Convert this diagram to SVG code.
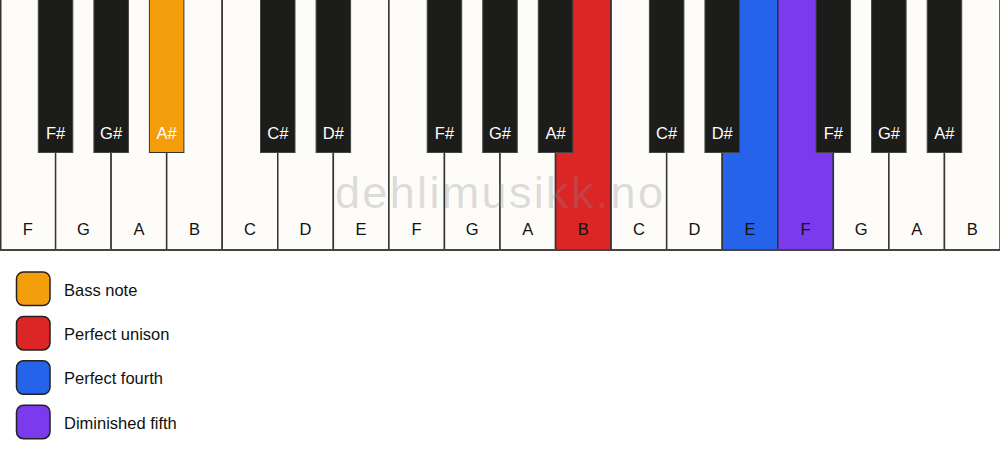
<svg xmlns="http://www.w3.org/2000/svg" width="1000" height="461" viewBox="0 0 1000 461">
<style>
.w{fill:#fdfcf8;stroke:#333;stroke-width:1.5}
.b{fill:#1c1c1a;stroke:#444;stroke-width:1}
.lw{font-family:"Liberation Sans",Arial,sans-serif;font-size:16.5px;fill:#111;text-anchor:middle}
.lb{font-family:"Liberation Sans",Arial,sans-serif;font-size:16.5px;fill:#fff;text-anchor:middle}
.sw{stroke:#222;stroke-width:1.5}
.lg{font-family:"Liberation Sans",Arial,sans-serif;font-size:16.5px;fill:#111}
</style>
<rect width="1000" height="461" fill="#ffffff"/>
<g id="white-keys">
<g id="wk-F1"><rect class="w" x="0.75" y="-2" width="55.56" height="252"/><text class="lw" x="27.78" y="235.3">F</text></g>
<g id="wk-G1"><rect class="w" x="55.56" y="-2" width="55.56" height="252"/><text class="lw" x="83.33" y="235.3">G</text></g>
<g id="wk-A1"><rect class="w" x="111.11" y="-2" width="55.56" height="252"/><text class="lw" x="138.89" y="235.3">A</text></g>
<g id="wk-B1"><rect class="w" x="166.67" y="-2" width="55.56" height="252"/><text class="lw" x="194.44" y="235.3">B</text></g>
<g id="wk-C1"><rect class="w" x="222.22" y="-2" width="55.56" height="252"/><text class="lw" x="250" y="235.3">C</text></g>
<g id="wk-D1"><rect class="w" x="277.78" y="-2" width="55.56" height="252"/><text class="lw" x="305.56" y="235.3">D</text></g>
<g id="wk-E1"><rect class="w" x="333.33" y="-2" width="55.56" height="252"/><text class="lw" x="361.11" y="235.3">E</text></g>
<g id="wk-F2"><rect class="w" x="388.89" y="-2" width="55.56" height="252"/><text class="lw" x="416.67" y="235.3">F</text></g>
<g id="wk-G2"><rect class="w" x="444.44" y="-2" width="55.56" height="252"/><text class="lw" x="472.22" y="235.3">G</text></g>
<g id="wk-A2"><rect class="w" x="500" y="-2" width="55.56" height="252"/><text class="lw" x="527.78" y="235.3">A</text></g>
<g id="wk-B2"><rect class="w" x="555.56" y="-2" width="55.56" height="252" style="fill:#dc2626"/><text class="lw" x="583.33" y="235.3">B</text></g>
<g id="wk-C2"><rect class="w" x="611.11" y="-2" width="55.56" height="252"/><text class="lw" x="638.89" y="235.3">C</text></g>
<g id="wk-D2"><rect class="w" x="666.67" y="-2" width="55.56" height="252"/><text class="lw" x="694.44" y="235.3">D</text></g>
<g id="wk-E2"><rect class="w" x="722.22" y="-2" width="55.56" height="252" style="fill:#2563eb"/><text class="lw" x="750" y="235.3">E</text></g>
<g id="wk-F3"><rect class="w" x="777.78" y="-2" width="55.56" height="252" style="fill:#7c3aed"/><text class="lw" x="805.56" y="235.3">F</text></g>
<g id="wk-G3"><rect class="w" x="833.33" y="-2" width="55.56" height="252"/><text class="lw" x="861.11" y="235.3">G</text></g>
<g id="wk-A3"><rect class="w" x="888.89" y="-2" width="55.56" height="252"/><text class="lw" x="916.67" y="235.3">A</text></g>
<g id="wk-B3"><rect class="w" x="944.44" y="-2" width="55.56" height="252"/><text class="lw" x="972.22" y="235.3">B</text></g>
</g>
<line x1="0" y1="250" x2="1000" y2="250" stroke="#444" stroke-width="2"/>
<text x="499" y="207.5" font-family="'Liberation Sans',Arial,sans-serif" font-size="45" fill="#8a8a8a" fill-opacity="0.28" text-anchor="middle" textLength="328" lengthAdjust="spacing">dehlimusikk.no</text>
<g id="black-keys">
<g id="bk-Fs1"><rect class="b" x="38.3" y="-2" width="34.5" height="154.5"/><text class="lb" x="55.56" y="139.2">F#</text></g>
<g id="bk-Gs1"><rect class="b" x="93.9" y="-2" width="34.5" height="154.5"/><text class="lb" x="111.11" y="139.2">G#</text></g>
<g id="bk-As1"><rect class="b" x="149.4" y="-2" width="34.5" height="154.5" style="fill:#f59e0b;stroke:#333"/><text class="lb" x="166.67" y="139.2">A#</text></g>
<g id="bk-Cs1"><rect class="b" x="260.5" y="-2" width="34.5" height="154.5"/><text class="lb" x="277.78" y="139.2">C#</text></g>
<g id="bk-Ds1"><rect class="b" x="316.1" y="-2" width="34.5" height="154.5"/><text class="lb" x="333.33" y="139.2">D#</text></g>
<g id="bk-Fs2"><rect class="b" x="427.2" y="-2" width="34.5" height="154.5"/><text class="lb" x="444.44" y="139.2">F#</text></g>
<g id="bk-Gs2"><rect class="b" x="482.75" y="-2" width="34.5" height="154.5"/><text class="lb" x="500" y="139.2">G#</text></g>
<g id="bk-As2"><rect class="b" x="538.3" y="-2" width="34.5" height="154.5"/><text class="lb" x="555.56" y="139.2">A#</text></g>
<g id="bk-Cs2"><rect class="b" x="649.4" y="-2" width="34.5" height="154.5"/><text class="lb" x="666.67" y="139.2">C#</text></g>
<g id="bk-Ds2"><rect class="b" x="704.95" y="-2" width="34.5" height="154.5"/><text class="lb" x="722.22" y="139.2">D#</text></g>
<g id="bk-Fs3"><rect class="b" x="816.05" y="-2" width="34.5" height="154.5"/><text class="lb" x="833.33" y="139.2">F#</text></g>
<g id="bk-Gs3"><rect class="b" x="871.6" y="-2" width="34.5" height="154.5"/><text class="lb" x="888.89" y="139.2">G#</text></g>
<g id="bk-As3"><rect class="b" x="927.2" y="-2" width="34.5" height="154.5"/><text class="lb" x="944.44" y="139.2">A#</text></g>
</g>
<g id="legend">
<g id="lg-bass"><rect class="sw" x="16.5" y="272" width="33.5" height="33.5" rx="7" fill="#f59e0b"/><text class="lg" x="64" y="295.5">Bass note</text></g>
<g id="lg-unison"><rect class="sw" x="16.5" y="316.4" width="33.5" height="33.5" rx="7" fill="#dc2626"/><text class="lg" x="64" y="339.9">Perfect unison</text></g>
<g id="lg-fourth"><rect class="sw" x="16.5" y="360.8" width="33.5" height="33.5" rx="7" fill="#2563eb"/><text class="lg" x="64" y="384.3">Perfect fourth</text></g>
<g id="lg-dim5"><rect class="sw" x="16.5" y="405.2" width="33.5" height="33.5" rx="7" fill="#7c3aed"/><text class="lg" x="64" y="428.7">Diminished fifth</text></g>
</g>
</svg>
